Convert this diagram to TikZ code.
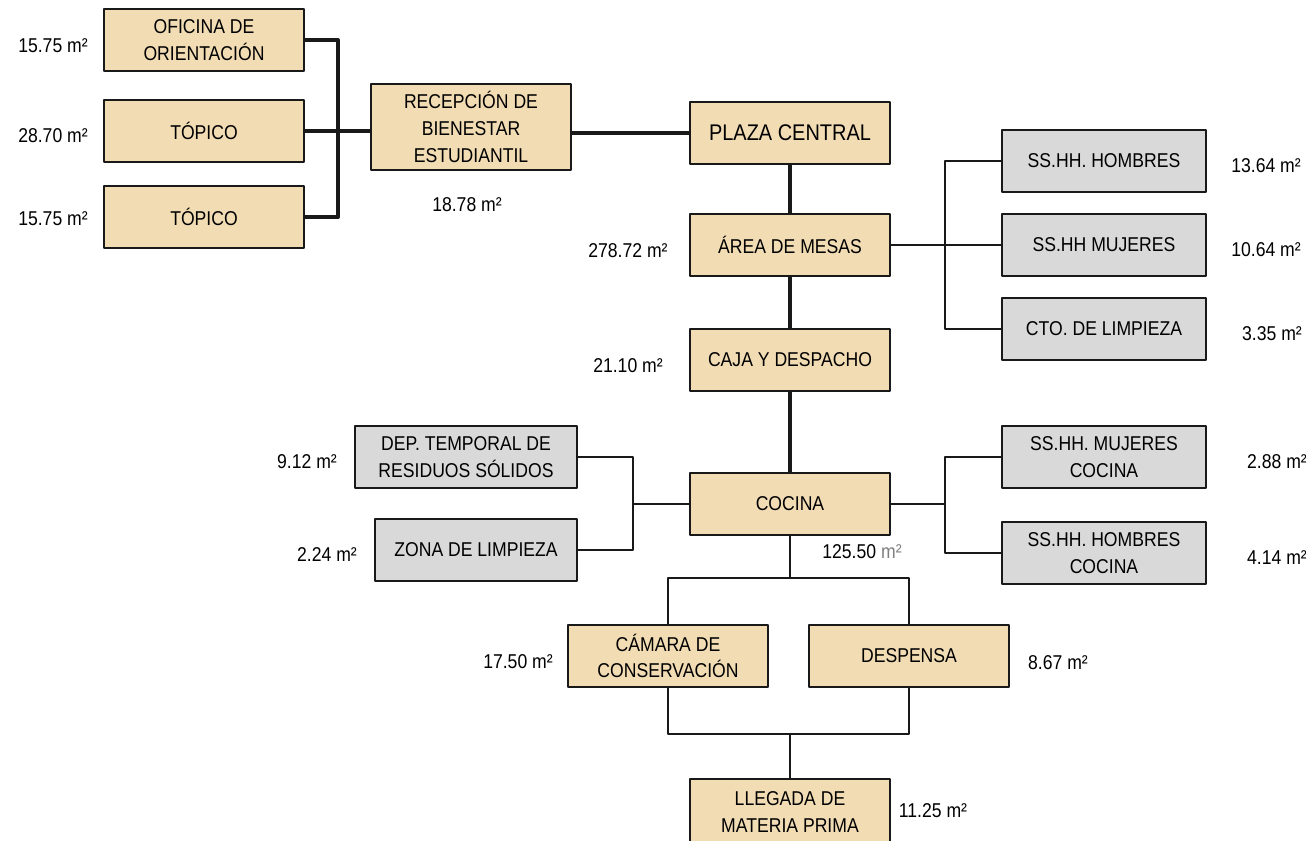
\documentclass[tikz,border=0pt]{standalone}
\usepackage{fontspec}
\setmainfont{Liberation Sans}[FakeStretch=0.88]
\usetikzlibrary{positioning}
\definecolor{beige}{RGB}{242,220,180}
\definecolor{grisclaro}{RGB}{217,217,217}
\definecolor{borde}{RGB}{25,25,25}
\begin{document}
\begin{tikzpicture}[x=0.75pt, y=-0.75pt, line join=round,
  font=\fontsize{15}{20}\selectfont,
  ambiente/.style={draw=borde, line width=1.5pt, fill=beige, align=center,
    inner sep=0pt, minimum width=150pt, minimum height=46.5pt},
  servicio/.style={ambiente, fill=grisclaro, minimum width=153pt},
  grueso/.style={line width=3pt, draw=borde},
  fino/.style={line width=1.1pt, draw=borde},
  area/.style={inner sep=0pt}]
\useasboundingbox (0,0) rectangle (1306,840);
% zona de bienestar
\node[ambiente] (ofi) at (204,40) {OFICINA DE\\ORIENTACIÓN};
\node[ambiente] (top1) at (204,131) {TÓPICO};
\node[ambiente] (top2) at (204,217) {TÓPICO};
\node[ambiente, minimum height=65pt] (rec) at (471,127) {RECEPCIÓN DE\\BIENESTAR\\ESTUDIANTIL};
\node[ambiente, line width=2.2pt, font=\fontsize{17}{20}\selectfont] (pla) at (790,133) {PLAZA CENTRAL};
% eje central
\node[ambiente] (mes) at (790,245) {ÁREA DE MESAS};
\node[ambiente] (caj) at (790,360) {CAJA Y DESPACHO};
\node[ambiente] (coc) at (790,504) {COCINA};
\node[ambiente] (cam) at (668,656) {CÁMARA DE\\CONSERVACIÓN};
\node[ambiente] (des) at (909,656) {DESPENSA};
\node[ambiente, minimum height=49.5pt] (lle) at (790,812) {LLEGADA DE\\MATERIA PRIMA};
% servicios
\node[servicio] (ssh) at (1104,161) {SS.HH. HOMBRES};
\node[servicio] (ssm) at (1104,245) {SS.HH MUJERES};
\node[servicio] (cto) at (1104,329) {CTO. DE LIMPIEZA};
\node[servicio, minimum width=166pt] (dep) at (466,457) {DEP. TEMPORAL DE\\RESIDUOS SÓLIDOS};
\node[servicio, minimum width=151pt] (zon) at (476,550) {ZONA DE LIMPIEZA};
\node[servicio] (smc) at (1104,457) {SS.HH. MUJERES\\COCINA};
\node[servicio] (shc) at (1104,553) {SS.HH. HOMBRES\\COCINA};
% areas
\node[area] (a1) at (53,46) {15.75 m²};
\node[area] (a2) at (53,136) {28.70 m²};
\node[area] (a3) at (53,219) {15.75 m²};
\node[area] (a4) at (467,205) {18.78 m²};
\node[area] (a5) at (628,251) {278.72 m²};
\node[area] (a6) at (628,366) {21.10 m²};
\node[area] (a7) at (1266,166) {13.64 m²};
\node[area] (a8) at (1266,250) {10.64 m²};
\node[area] (a9) at (1272,334) {3.35 m²};
\node[area] (a10) at (307,462) {9.12 m²};
\node[area] (a11) at (327,555) {2.24 m²};
\node[area] (a12) at (1277,462) {2.88 m²};
\node[area] (a13) at (1277,558) {4.14 m²};
\node[area] (a14) at (862,552) {125.50 {\color{gray}m²}};
\node[area] (a15) at (518,662) {17.50 m²};
\node[area] (a16) at (1058,663) {8.67 m²};
\node[area] (a17) at (933,811) {11.25 m²};
% puntos de quiebre
\coordinate (q1) at (338,131);
\coordinate (q2) at (945,245);
\coordinate (q3) at (633,504);
\coordinate (q4) at (945,504);
\coordinate (q5) at (790,578);
\coordinate (q6) at (790,734);
% conexiones principales
\draw[grueso] (ofi.east) -| (q1) |- (top2.east);
\draw[grueso] (top1.east) -- (rec.west |- top1.east);
\draw[grueso] (rec.east |- pla.west) -- (pla.west);
\draw[grueso] (pla) -- (mes);
\draw[grueso] (mes) -- (caj);
\draw[grueso] (caj) -- (coc);
% conexiones secundarias
\draw[fino] (mes.east) -- (ssm.west);
\draw[fino] (ssh.west) -| (q2) |- (cto.west);
\draw[fino] (dep.east) -| (q3) |- (zon.east);
\draw[fino] (q3) -- (coc.west);
\draw[fino] (smc.west) -| (q4) |- (shc.west);
\draw[fino] (coc.east) -- (q4);
\draw[fino] (coc.south) -- (q5);
\draw[fino] (cam.north) |- (q5) -| (des.north);
\draw[fino] (cam.south) |- (q6) -| (des.south);
\draw[fino] (q6) -- (lle.north);
\end{tikzpicture}
\end{document}
